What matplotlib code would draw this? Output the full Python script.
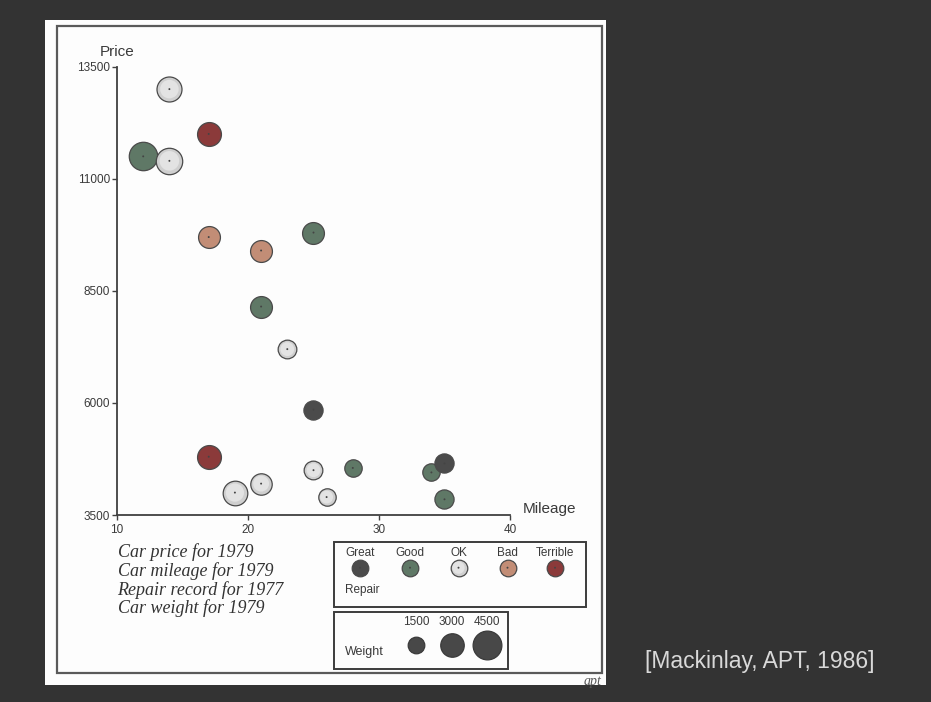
import matplotlib
matplotlib.use("Agg")
import matplotlib.pyplot as plt
from matplotlib.patches import Rectangle

# ---------------- data ----------------
mileage = [14, 17, 12, 14, 17, 21, 25, 21, 23, 25, 17, 25, 21, 19, 26, 28, 34, 35, 35]
price = [13000, 12000, 11500, 11400, 9700, 9400, 9800, 8150, 7200, 5850, 4800, 4500,
         4200, 4000, 3900, 4550, 4450, 4650, 3850]
repair = ["OK", "Terrible", "Good", "OK", "Bad", "Bad", "Good", "Good", "OK", "Great",
          "Terrible", "OK", "OK", "OK", "OK", "Good", "Good", "Great", "Good"]
weight = [3400, 3100, 4400, 3800, 2600, 2600, 2600, 2600, 1900, 2000, 3100, 1900,
          2500, 3300, 1650, 1650, 1650, 2000, 2000]

repair_levels = ["Great", "Good", "OK", "Bad", "Terrible"]
repair_colors = {"Great": "#4b4b4b", "Good": "#5f7866", "OK": "#cfcfcf",
                 "Bad": "#c28d76", "Terrible": "#8b3a3a"}
weight_legend = [1500, 3000, 4500]

x_ticks = [10, 20, 30, 40]
y_ticks = [3500, 6000, 8500, 11000, 13500]

notes = ["Car price for 1979", "Car mileage for 1979",
         "Repair record for 1977", "Car weight for 1979"]
caption = "[Mackinlay, APT, 1986]"

# ---------------- figure ----------------
W, H = 931, 702
fig = plt.figure(figsize=(W / 100, H / 100), dpi=100)
fig.patch.set_facecolor("#333333")

SIZE_K = 0.0953  # points^2 per weight unit


def msize(w):
    return w * SIZE_K


# overlay axes in pixel coordinates for decoration
ov = fig.add_axes([0, 0, 1, 1], zorder=0)
ov.set_xlim(0, W)
ov.set_ylim(H, 0)
ov.axis("off")

ov.add_patch(Rectangle((45, 20), 561, 665, facecolor="#fdfdfd", edgecolor="none"))
ov.add_patch(Rectangle((56.5, 26), 545, 647, facecolor="none", edgecolor="#5a5a5a", lw=1.6))

sans = ["Liberation Sans", "DejaVu Sans"]
serif = ["Liberation Serif", "DejaVu Serif"]
textc = "#3a3a3a"


def draw_marker(axis, x, y, lvl, w, z):
    c = repair_colors[lvl]
    s = msize(w)
    axis.scatter([x], [y], s=s, c=c, edgecolors="#4a4a4a", linewidths=0.9, zorder=z)
    if lvl == "OK":
        axis.scatter([x], [y], s=s * 0.55, c="#e3e3e3", edgecolors="none", zorder=z + 0.1)
    axis.scatter([x], [y], s=2.0, c="#444444", edgecolors="none", zorder=z + 0.2)


# ---------------- main axes ----------------
ax = fig.add_axes([117 / W, 1 - 515 / H, 393 / W, 448.3 / H], zorder=1)
ax.set_facecolor("none")
ax.set_xlim(10, 40)
ax.set_ylim(3500, 13500)
for sp in ["top", "right"]:
    ax.spines[sp].set_visible(False)
for sp in ["left", "bottom"]:
    ax.spines[sp].set_color("#404040")
    ax.spines[sp].set_linewidth(1.3)
ax.set_xticks(x_ticks)
ax.set_yticks(y_ticks)
ax.set_xticklabels([str(v) for v in x_ticks], fontsize=8.5, color=textc, family=sans)
ax.set_yticklabels([str(v) for v in y_ticks], fontsize=8.5, color=textc, family=sans)
ax.tick_params(axis="both", direction="out", length=3.5, width=1.0, color="#404040", pad=1.5)
ax.tick_params(axis="x", pad=3)

for i in range(len(mileage)):
    draw_marker(ax, mileage[i], price[i], repair[i], weight[i], 3 + i)

ax.text(-0.045, 1.018, "Price", transform=ax.transAxes, fontsize=11, color=textc,
        family=sans, ha="left", va="bottom")
ax.text(1.033, 0.013, "Mileage", transform=ax.transAxes, fontsize=11, color=textc,
        family=sans, ha="left", va="center")

# ---------------- notes ----------------
for k, line in enumerate(notes):
    ov.text(117.5, 552.5 + k * 18.6, line, fontsize=13, style="italic", family=serif,
            color="#333333", ha="left", va="center")

# ---------------- repair legend ----------------
ov.add_patch(Rectangle((333.5, 541.7), 252.5, 65.6, facecolor="none", edgecolor="#3c3c3c", lw=1.4))
rep_x = [360, 410, 458.5, 507.5, 555]
for lvl, xx in zip(repair_levels, rep_x):
    ov.text(xx, 552.5, lvl, fontsize=8.5, color=textc, family=sans, ha="center", va="center")
    draw_marker(ov, xx, 567.7, lvl, weight_legend[0], 5)
ov.text(345, 590.5, "Repair", fontsize=8.5, color=textc, family=sans, ha="left", va="center")

# ---------------- weight legend ----------------
ov.add_patch(Rectangle((333.5, 611.7), 174, 57.3, facecolor="none", edgecolor="#3c3c3c", lw=1.4))
wx = [416, 451.5, 486.5]
for wv, xx in zip(weight_legend, wx):
    ov.text(xx, 621.7, str(wv), fontsize=8.5, color=textc, family=sans, ha="center", va="center")
    ov.scatter([xx], [645.2], s=msize(wv), c="#484848", edgecolors="#3a3a3a", linewidths=0.9, zorder=5)
ov.text(345, 652.5, "Weight", fontsize=9, color=textc, family=sans, ha="left", va="center")

# small "apt" mark at bottom right of the scan
t = ov.text(584, 681, "apt", fontsize=10, style="italic", family=serif, color="#555555",
            ha="left", va="center")
t.set_clip_path(Rectangle((45, 20), 561, 665, transform=ov.transData))

# ---------------- caption ----------------
ov.text(645, 661.5, caption, fontsize=16.5, color="#d9d9d9", family=sans, ha="left", va="center")

fig.savefig("out.png", dpi=100, facecolor=fig.get_facecolor())
